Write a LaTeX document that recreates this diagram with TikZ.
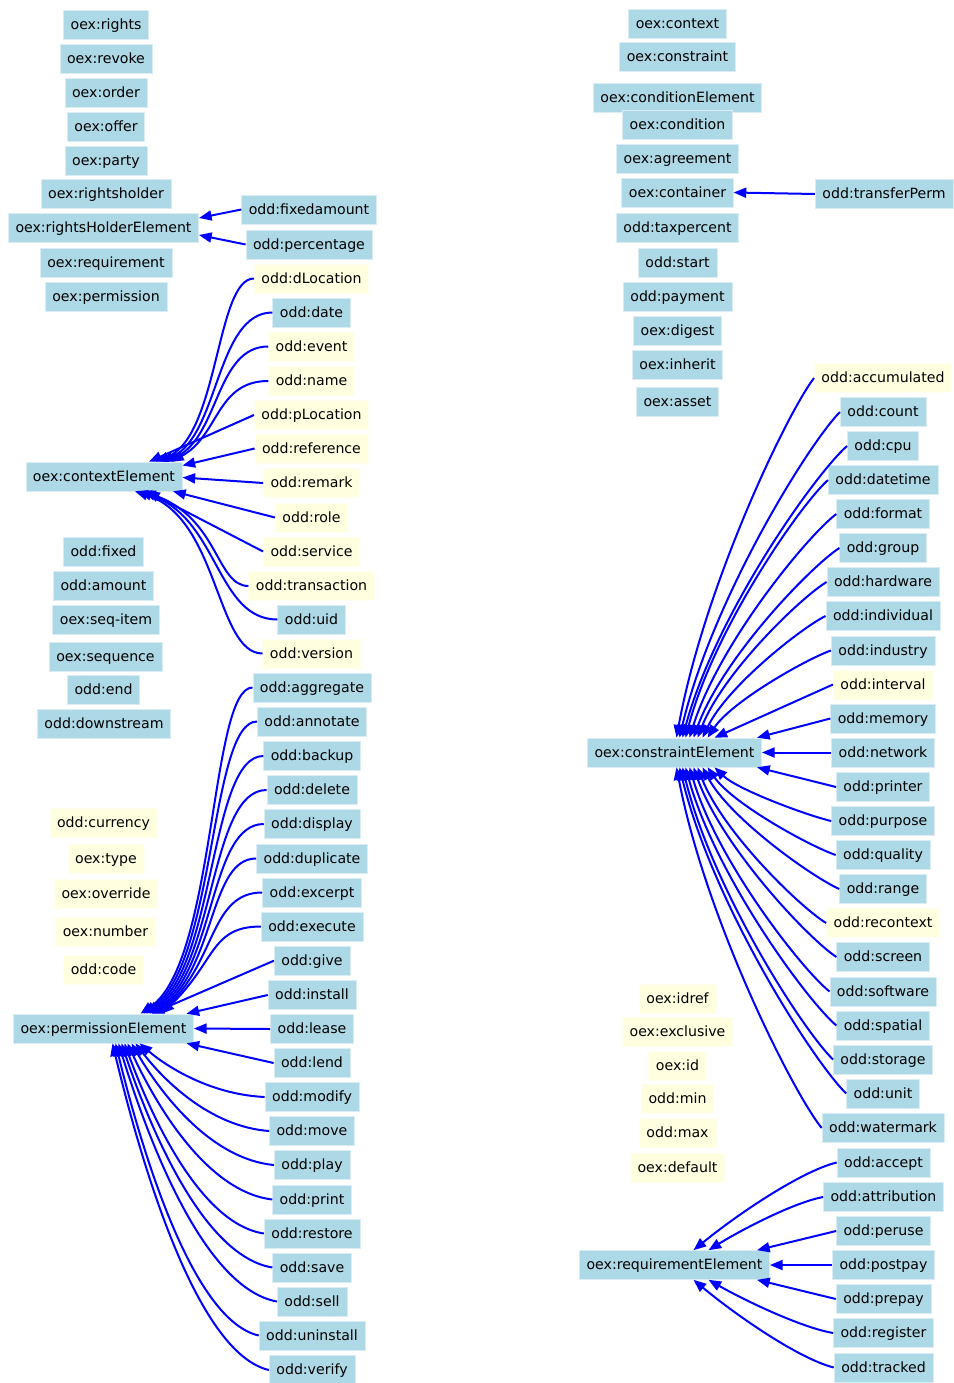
\documentclass[tikz,border=0pt]{standalone}
\usepackage{fontspec}
\setmainfont{DejaVu Sans}
\usepackage{xcolor}
\usetikzlibrary{arrows.meta, calc}
\definecolor{boxBlue}{HTML}{ADD8E6}
\definecolor{boxYellow}{HTML}{FFFFE0}
\tikzset{
    termBlue/.style={rectangle, fill=boxBlue, draw=boxBlue!45, line width=0.4pt, inner xsep=5.4pt, inner ysep=0pt,
        minimum height=21.8pt, text height=9.4pt, text depth=2pt, font=\fontsize{10.6pt}{12pt}\selectfont},
    termYellow/.style={termBlue, fill=boxYellow, draw=boxYellow!45},
    subLink/.style={draw=blue, line width=1.5pt, -{Triangle[length=9.5pt, width=7.5pt]}}
}

\begin{document}
\begin{tikzpicture}[x=0.75pt, y=-0.75pt]
    \useasboundingbox (0,0) rectangle (953,1383);
    % --- left column: loose terms ---
    \foreach \n/\pre/\x/\y in {rights/oex/106/24.5, revoke/oex/106/58.5, order/oex/106/92.5, offer/oex/106/126.5,
        party/oex/106/160.5, rightsholder/oex/106/194, requirement/oex/106/262.5, permission/oex/106/296.5,
        fixed/odd/103.5/551.5, amount/odd/103.5/585.5, seq-item/oex/106/620, sequence/oex/105.5/656.5,
        end/odd/103.5/689.5, downstream/odd/104/724}
        \node[termBlue] (\n) at (\x,\y) {\pre:\n};
    \foreach \n/\pre/\x/\y in {currency/odd/103.5/823, type/oex/106/858.5, override/oex/106/893.5,
        number/oex/105.5/932, code/odd/103.5/969.5}
        \node[termYellow] (\n) at (\x,\y) {\pre:\n};

    % --- rightsHolderElement ---
    \node[termBlue] (rightsHolderElement) at (103.5,227.5) {oex:rightsHolderElement};
    \node[termBlue] (fixedamount) at (309,209.5) {odd:fixedamount};
    \node[termBlue] (percentage) at (309,244.5) {odd:percentage};
    \draw[subLink] (fixedamount.west) -- ($(rightsHolderElement.east)+(0,-9.5)$);
    \draw[subLink] (percentage.west) -- ($(rightsHolderElement.east)+(0,7.5)$);

    % --- contextElement ---
    \node[termBlue] (contextElement) at (104,476.5) {oex:contextElement};
    \foreach \n/\y in {dLocation/278.5, event/346.5, name/381, pLocation/415, reference/448.5, remark/483,
        role/517.5, service/551.5, transaction/586, version/653.5}
        \node[termYellow] (\n) at (311.5,\y) {odd:\n};
    \foreach \n/\y in {date/312.5, uid/619.5}
        \node[termBlue] (\n) at (311.5,\y) {odd:\n};
    \coordinate (ctxBus) at (216,0);
    \coordinate (ctxBusT) at (219,436);
    \coordinate (ctxBusB) at (219,518);
    \foreach \ch/\dx in {dLocation/52, date/57, event/62, name/67}
        \draw[subLink] (\ch.west) .. controls (\ch.west -| ctxBus) and (ctxBusT) .. ($(contextElement.north)+(\dx,0)$);
    \foreach \ch/\dx in {transaction/39, uid/35, version/31}
        \draw[subLink] (\ch.west) .. controls (\ch.west -| ctxBus) and (ctxBusB) .. ($(contextElement.south)+(\dx,0)$);
    \foreach \ch/\an/\dx/\dy in {pLocation/north/45/0, reference/east/0/-11, remark/east/0/1, role/south/69/0, service/south/43/0}
        \draw[subLink] (\ch.west) -- ($(contextElement.\an)+(\dx,\dy)$);

    % --- permissionElement ---
    \node[termBlue] (permissionElement) at (103.5,1028.5) {oex:permissionElement};
    \foreach \n/\y in {aggregate/687.5, annotate/721.5, backup/756, delete/790, display/824, duplicate/858.5,
        excerpt/892.5, execute/926.5, give/960.7, install/995, lease/1029, lend/1063, modify/1097, move/1131,
        play/1165, print/1199.5, restore/1233.5, save/1267.5, sell/1301.5, uninstall/1335.5, verify/1370}
        \node[termBlue] (\n) at (312,\y) {odd:\n};
    \coordinate (peBus) at (210,0);
    \coordinate (peBusT) at (216,962);
    \foreach \ch/\dx in {aggregate/37, annotate/40, backup/43, delete/46, display/49, duplicate/52, excerpt/55, execute/58}
        \draw[subLink] (\ch.west) .. controls (\ch.west -| peBus) and (peBusT) .. ($(permissionElement.north)+(\dx,0)$);
    \foreach \ch/\an/\dx in {give/north/48, install/north/83, lease/east/0, lend/south/83}
        \draw[subLink] (\ch.west) -- ($(permissionElement.\an)+(\dx,0)$);
    \foreach \ch/\dx in {modify/36, move/32, play/28, print/24, restore/21, save/18, sell/15, uninstall/12, verify/9}{
        \coordinate (e) at ($(permissionElement.south)+(\dx,0)$);
        \coordinate (p) at ($(\ch.west)!.45!(e)$);
        \coordinate (q) at ($(\ch.west)!.05!(e)$);
        \coordinate (r) at ($(e)!.2!(\ch.west)$);
        \coordinate (s) at ($(e)!.4!(\ch.west)$);
        \draw[subLink] (\ch.west) .. controls (p |- q) and (r |- s) .. (e);
    }

    % --- right column: loose terms ---
    \foreach \n/\pre/\y in {context/oex/23.5, constraint/oex/56.5, conditionElement/oex/97.5, condition/oex/124.5,
        agreement/oex/158.5, container/oex/192.5, taxpercent/odd/227.5, start/odd/262.5, payment/odd/296.5,
        digest/oex/331, inherit/oex/365, asset/oex/401.5}
        \node[termBlue] (\n) at (677.5,\y) {\pre:\n};
    \foreach \n/\pre/\y in {idref/oex/999, exclusive/oex/1032, id/oex/1066, min/odd/1098.5, max/odd/1132.5, default/oex/1167.5}
        \node[termYellow] (\n) at (677.5,\y) {\pre:\n};
    \node[termBlue] (transferPerm) at (884,194) {odd:transferPerm};
    \draw[subLink] (transferPerm.west) -- (container.east);

    % --- constraintElement ---
    \node[termBlue] (constraintElement) at (674.5,752.5) {oex:constraintElement};
    \foreach \n/\y in {count/412, cpu/446, datetime/480, format/514, group/548, hardware/582, individual/616,
        industry/650.5, memory/718.5, network/752.5, printer/787, purpose/821, quality/855, range/889, screen/957,
        software/991.5, spatial/1025.5, storage/1059.5, unit/1093.5, watermark/1128}
        \node[termBlue] (\n) at (883,\y) {odd:\n};
    \foreach \n/\y in {accumulated/378, interval/684.5, recontext/923}
        \node[termYellow] (\n) at (883,\y) {odd:\n};
    \foreach \ch/\an/\dx in {accumulated/north/2, count/north/5, cpu/north/8, datetime/north/11, format/north/15,
        group/north/19, hardware/north/23, individual/north/28, industry/north/33, purpose/south/40,
        quality/south/33, range/south/28, recontext/south/23, screen/south/19, software/south/15,
        spatial/south/11, storage/south/8, unit/south/5, watermark/south/2}{
        \coordinate (e) at ($(constraintElement.\an)+(\dx,0)$);
        \coordinate (p) at ($(\ch.west)!.2!(e)$);
        \coordinate (q) at ($(\ch.west)!.1!(e)$);
        \coordinate (r) at ($(e)!.2!(\ch.west)$);
        \coordinate (s) at ($(e)!.42!(\ch.west)$);
        \draw[subLink] (\ch.west) .. controls (p |- q) and (r |- s) .. (e);
    }
    \foreach \ch/\an/\dx in {interval/north/40, memory/north/82.5, network/east/0, printer/south/82.5}
        \draw[subLink] (\ch.west) -- ($(constraintElement.\an)+(\dx,0)$);

    % --- requirementElement ---
    \node[termBlue] (requirementElement) at (674.5,1265) {oex:requirementElement};
    \foreach \n/\y in {accept/1162.5, attribution/1197, peruse/1231, postpay/1265, prepay/1299, register/1333, tracked/1367.5}
        \node[termBlue] (\n) at (883.5,\y) {odd:\n};
    \foreach \ch/\an/\dx in {accept/north/19, attribution/north/34, register/south/34, tracked/south/19}{
        \coordinate (e) at ($(requirementElement.\an)+(\dx,0)$);
        \coordinate (p) at ($(\ch.west)!.25!(e)$);
        \coordinate (q) at ($(\ch.west)!.1!(e)$);
        \coordinate (r) at ($(e)!.3!(\ch.west)$);
        \coordinate (s) at ($(e)!.4!(\ch.west)$);
        \draw[subLink] (\ch.west) .. controls (p |- q) and (r |- s) .. (e);
    }
    \foreach \ch/\an/\dx in {peruse/north/82.5, postpay/east/0, prepay/south/82.5}
        \draw[subLink] (\ch.west) -- ($(requirementElement.\an)+(\dx,0)$);
\end{tikzpicture}
\end{document}
